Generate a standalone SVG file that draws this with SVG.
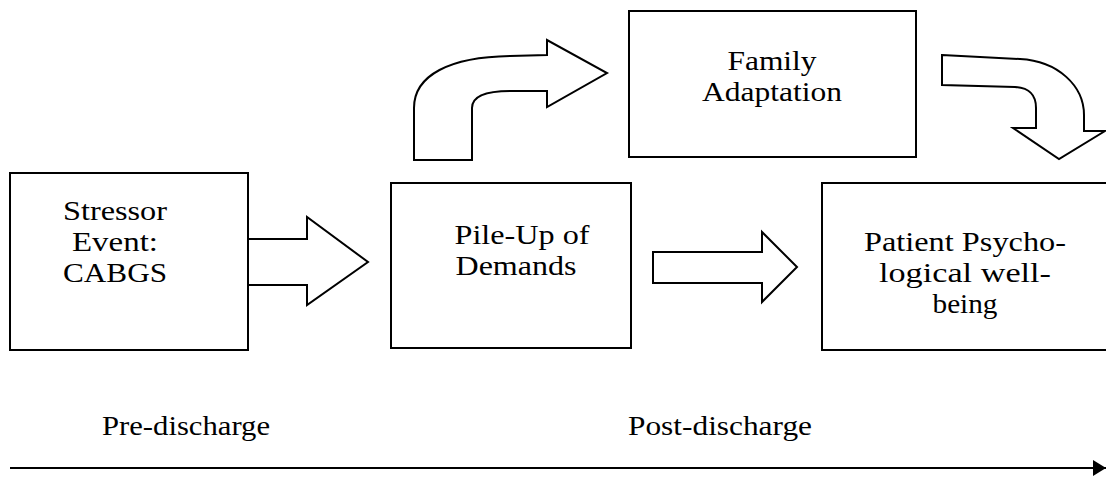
<svg xmlns="http://www.w3.org/2000/svg" width="1106" height="479" viewBox="0 0 1106 479">
<style>
.box{fill:#fff;stroke:#000;stroke-width:2}
.arrow{fill:#fff;stroke:#000;stroke-width:2;stroke-linejoin:miter}
.t{font-family:"Liberation Serif","Times New Roman",serif;font-size:27.5px;fill:#000}
.c{text-anchor:middle}
.line{stroke:#000;stroke-width:2;fill:none}
</style>
<defs>
<marker id="tri" markerWidth="13" markerHeight="16" refX="13" refY="8" orient="auto" markerUnits="userSpaceOnUse">
<path d="M0,0 L13,8 L0,16 Z" fill="#000"/>
</marker>
</defs>
<rect width="1106" height="479" fill="#fff"/>
<g id="connectors">
<path class="arrow" d="M248,239 L307,239 L307,217 L368,262 L307,305 L307,285 L248,285"/>
<path class="arrow" d="M653,252 L762,252 L762,232 L797,267 L762,302 L762,283 L653,283 Z"/>
<path class="arrow" d="M414,160 L414,108 C414,75 450,57 510,56 L547,55 L547,40 L607,73 L547,107 L547,91 L510,91 C485,91 472,96 472,108 L472,160 Z"/>
<path class="arrow" d="M942,55 L1020,59 C1058,61 1084,86 1084,115 L1084,131 L1105,131 L1059,159 L1013,128 L1036,128 L1036,108 C1036,95 1030,88 1015,87 L942,85 Z"/>
<line class="line" x1="10" y1="468" x2="1106" y2="468" marker-end="url(#tri)"/>
</g>
<g id="stressor">
<rect class="box" x="10" y="173" width="238" height="177"/>
<text class="t c" x="115" y="220" textLength="104" lengthAdjust="spacingAndGlyphs">Stressor</text>
<text class="t c" x="115" y="251" textLength="86" lengthAdjust="spacingAndGlyphs">Event:</text>
<text class="t c" x="115" y="282" textLength="104" lengthAdjust="spacingAndGlyphs">CABGS</text>
</g>
<g id="pileup">
<rect class="box" x="391" y="183" width="240" height="165"/>
<text class="t c" x="522" y="244" textLength="135" lengthAdjust="spacingAndGlyphs">Pile-Up of</text>
<text class="t c" x="516" y="275" textLength="121" lengthAdjust="spacingAndGlyphs">Demands</text>
</g>
<g id="family">
<rect class="box" x="629" y="11" width="287" height="146"/>
<text class="t c" x="772" y="70" textLength="89" lengthAdjust="spacingAndGlyphs">Family</text>
<text class="t c" x="772" y="101" textLength="140" lengthAdjust="spacingAndGlyphs">Adaptation</text>
</g>
<g id="patient">
<rect class="box" x="822" y="183" width="290" height="167"/>
<text class="t c" x="965" y="251" textLength="202" lengthAdjust="spacingAndGlyphs">Patient Psycho-</text>
<text class="t c" x="965" y="282" textLength="172" lengthAdjust="spacingAndGlyphs">logical well-</text>
<text class="t c" x="965" y="313" textLength="65" lengthAdjust="spacingAndGlyphs">being</text>
</g>
<g id="labels">
<text class="t" x="102" y="435" textLength="168" lengthAdjust="spacingAndGlyphs">Pre-discharge</text>
<text class="t" x="628" y="435" textLength="184" lengthAdjust="spacingAndGlyphs">Post-discharge</text>
</g>
</svg>
